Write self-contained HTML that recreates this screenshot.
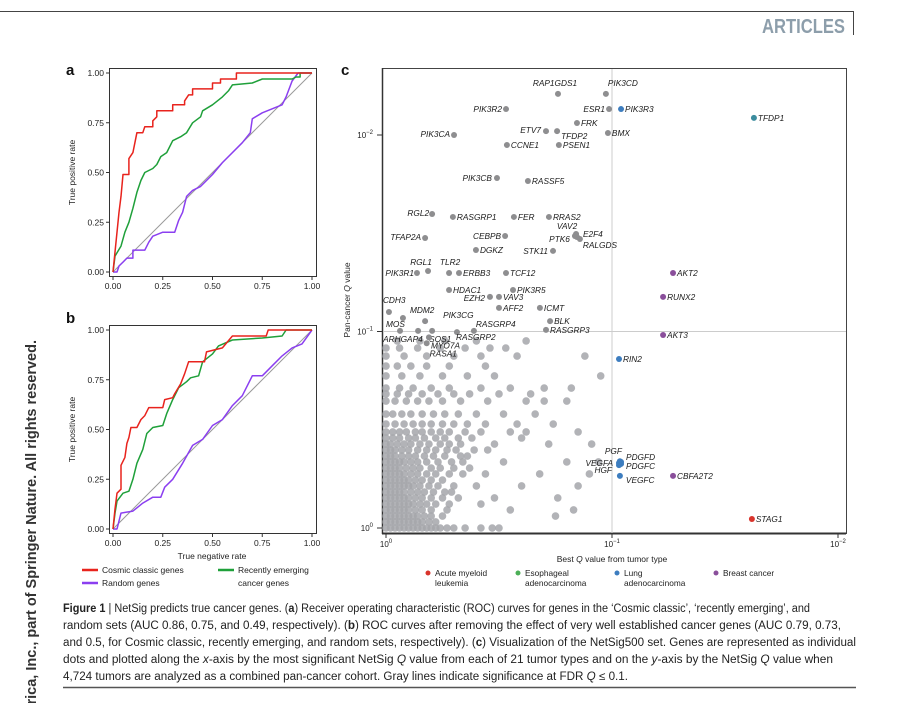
<!DOCTYPE html>
<html><head><meta charset="utf-8"><style>
html,body{margin:0;padding:0;background:#fff;}
svg{display:block;font-family:"Liberation Sans",sans-serif;}
</style></head><body>
<svg id="fig" width="900" height="703" viewBox="0 0 900 703" xmlns="http://www.w3.org/2000/svg">
<line x1="0" y1="11.5" x2="853" y2="11.5" stroke="#444" stroke-width="1"/>
<line x1="853.5" y1="11" x2="853.5" y2="35" stroke="#444" stroke-width="1"/>
<text x="845" y="33" text-anchor="end" font-size="20" font-weight="bold" fill="#8d9eab" font-family="Liberation Sans Narrow, Liberation Sans, sans-serif" textLength="83" lengthAdjust="spacingAndGlyphs">ARTICLES</text>
<text transform="translate(36,340) rotate(-90)" text-anchor="end" font-size="14.5" font-weight="bold" fill="#333">America, Inc., part of Springer Nature. All rights reserved.</text>
<g id="panelA"></g>
<g id="panelB"></g>
<g id="panelC"></g>
<g font-family="Liberation Sans Narrow, Liberation Sans, sans-serif" font-size="11.5" fill="#222">
<text x="63" y="612" textLength="747" lengthAdjust="spacingAndGlyphs"><tspan font-weight="bold">Figure 1</tspan> | NetSig predicts true cancer genes. (<tspan font-weight="bold">a</tspan>) Receiver operating characteristic (ROC) curves for genes in the ‘Cosmic classic’, ‘recently emerging’, and</text>
<text x="63" y="629" textLength="778" lengthAdjust="spacingAndGlyphs">random sets (AUC 0.86, 0.75, and 0.49, respectively). (<tspan font-weight="bold">b</tspan>) ROC curves after removing the effect of very well established cancer genes (AUC 0.79, 0.73,</text>
<text x="63" y="646" textLength="793" lengthAdjust="spacingAndGlyphs">and 0.5, for Cosmic classic, recently emerging, and random sets, respectively). (<tspan font-weight="bold">c</tspan>) Visualization of the NetSig500 set. Genes are represented as individual</text>
<text x="63" y="663" textLength="770" lengthAdjust="spacingAndGlyphs">dots and plotted along the <tspan font-style="italic">x</tspan>-axis by the most significant NetSig <tspan font-style="italic">Q</tspan> value from each of 21 tumor types and on the <tspan font-style="italic">y</tspan>-axis by the NetSig <tspan font-style="italic">Q</tspan> value when</text>
<text x="63" y="680" textLength="565" lengthAdjust="spacingAndGlyphs">4,724 tumors are analyzed as a combined pan-cancer cohort. Gray lines indicate significance at FDR <tspan font-style="italic">Q</tspan> ≤ 0.1.</text>
</g>
<line x1="63" y1="687.5" x2="856" y2="687.5" stroke="#555" stroke-width="1.5"/>
</svg>
<script>
// ---------- ROC data ----------
const rocTicks = [0, 0.25, 0.5, 0.75, 1];
const rocTickLabels = ["0.00", "0.25", "0.50", "0.75", "1.00"];
const aCosmicX = [0,0.01,0.02,0.03,0.04,0.05,0.08,0.08,0.1,0.11,0.12,0.15,0.16,0.2,0.2,0.22,0.22,0.3,0.3,0.36,0.36,0.38,0.4,0.4,0.5,0.5,0.54,0.54,0.62,0.62,1];
const aCosmicY = [0,0.1,0.2,0.3,0.38,0.49,0.49,0.57,0.6,0.65,0.7,0.7,0.73,0.73,0.76,0.78,0.81,0.81,0.84,0.84,0.86,0.89,0.89,0.92,0.92,0.95,0.95,0.97,0.97,1,1];
const aEmergX = [0,0.01,0.04,0.06,0.08,0.1,0.12,0.14,0.16,0.2,0.22,0.24,0.27,0.3,0.34,0.37,0.4,0.44,0.45,0.5,0.55,0.58,0.6,0.7,0.75,0.9,0.92,0.94,0.94,1];
const aEmergY = [0,0.08,0.13,0.2,0.25,0.32,0.4,0.46,0.5,0.52,0.54,0.58,0.6,0.66,0.68,0.7,0.75,0.78,0.81,0.84,0.88,0.91,0.94,0.95,0.97,0.97,0.98,0.98,1,1];
const aRandX = [0,0.02,0.03,0.05,0.07,0.1,0.1,0.16,0.18,0.2,0.25,0.31,0.33,0.35,0.37,0.4,0.44,0.47,0.5,0.55,0.6,0.65,0.69,0.7,0.75,0.8,0.85,0.87,0.9,0.93,1];
const aRandY = [0,0,0.03,0.05,0.07,0.07,0.11,0.11,0.15,0.18,0.2,0.2,0.26,0.3,0.38,0.41,0.43,0.46,0.49,0.55,0.6,0.65,0.7,0.77,0.8,0.82,0.84,0.88,0.96,1,1];
const bCosmicX = [0,0.01,0.02,0.04,0.04,0.06,0.07,0.08,0.09,0.12,0.14,0.16,0.18,0.25,0.26,0.3,0.31,0.34,0.36,0.38,0.46,0.47,0.55,0.6,0.77,0.78,1];
const bCosmicY = [0,0.1,0.18,0.2,0.32,0.36,0.43,0.46,0.51,0.51,0.55,0.57,0.61,0.61,0.65,0.66,0.68,0.73,0.78,0.84,0.84,0.89,0.91,0.97,0.97,1,1];
const bEmergX = [0,0.01,0.02,0.05,0.08,0.1,0.12,0.15,0.17,0.2,0.25,0.27,0.3,0.33,0.37,0.39,0.43,0.45,0.5,0.53,0.6,0.75,0.85,0.87,1];
const bEmergY = [0,0.08,0.14,0.18,0.19,0.25,0.33,0.4,0.48,0.51,0.52,0.58,0.65,0.71,0.74,0.76,0.77,0.84,0.88,0.92,0.95,0.96,0.97,1,1];
const bRandX = [0,0.02,0.03,0.04,0.1,0.15,0.2,0.24,0.26,0.3,0.35,0.4,0.45,0.5,0.55,0.6,0.65,0.7,0.75,0.8,0.85,0.9,0.95,1];
const bRandY = [0,0,0.04,0.08,0.09,0.13,0.16,0.16,0.21,0.25,0.33,0.42,0.45,0.52,0.55,0.62,0.67,0.77,0.77,0.82,0.87,0.91,0.93,1];

// ---------- Scatter data (values are -log10 Q) ----------
const geneNames = ["RAP1GDS1","PIK3CD","PIK3R2","ESR1","PIK3R3","TFDP1","FRK","ETV7","TFDP2","BMX","PIK3CA","CCNE1","PSEN1","PIK3CB","RASSF5","RGL2","RASGRP1","FER","RRAS2","TFAP2A","CEBPB","VAV2","PTK6","E2F4","RALGDS","DGKZ","STK11","RGL1","TLR2","PIK3R1","ERBB3","TCF12","HDAC1","PIK3R5","EZH2","VAV3","AFF2","ICMT","CDH3","MDM2","PIK3CG","MOS","RASGRP4","BLK","RASGRP3","ARHGAP4","SOS1","RASGRP2","MYO7A","RASA1","RIN2","AKT2","RUNX2","AKT3","PGF","PDGFD","PDGFC","VEGFA","HGF","VEGFC","CBFA2T2","STAG1"];
const geneBestQ = [0.761,0.973,0.531,0.987,1.040,1.628,0.845,0.708,0.757,0.982,0.301,0.535,0.765,0.491,0.628,0.204,0.296,0.566,0.721,0.173,0.527,0.841,0.836,0.845,0.858,0.398,0.739,0.186,0.279,0.137,0.323,0.531,0.279,0.562,0.460,0.500,0.500,0.681,0.013,0.075,0.173,0.062,0.389,0.726,0.708,0.142,0.204,0.314,0.190,0.180,1.031,1.270,1.226,1.226,1.035,1.040,1.040,1.031,1.031,1.035,1.270,1.619];
const genePanQ = [2.209,2.209,2.132,2.132,2.132,2.087,2.061,2.020,2.020,2.010,2.000,1.949,1.949,1.781,1.766,1.598,1.583,1.583,1.583,1.476,1.486,1.496,1.486,1.481,1.471,1.415,1.410,1.308,1.298,1.298,1.298,1.298,1.211,1.211,1.176,1.176,1.120,1.120,1.099,1.069,1.053,1.003,1.003,1.053,1.008,1.003,1.003,0.997,0.970,0.940,0.860,1.298,1.176,0.982,0.340,0.336,0.326,0.331,0.320,0.265,0.265,0.046];
const geneGroup = ["g","g","g","g","lung","multi","g","g","g","g","g","g","g","g","g","g","g","g","g","g","g","g","g","g","g","g","g","g","g","g","g","g","g","g","g","g","g","g","g","g","g","g","g","g","g","g","g","g","g","g","lung","breast","breast","breast","lung","lung","lung","lung","lung","lung","breast","aml"];
const grayY = [0,0.031,0.061,0.092,0.122,0.153,0.183,0.214,0.244,0.275,0.305,0.336,0.366,0.397,0.427,0.458,0.489,0.529,0.580,0.646,0.682,0.712,0.774,0.824,0.875,0.916,0.952];
const grayX = [
[0,.02,.04,.06,.08,.1,.12,.14,.16,.18,.2,.22,.24,.27,.3,.35,.42,.47,.5],
[0,.02,.04,.06,.08,.1,.12,.14,.16,.19,.22],
[0,.02,.04,.06,.08,.1,.12,.14,.17,.2,.25,.75],
[0,.02,.04,.06,.08,.1,.13,.16,.2,.27,.55,.83],
[0,.02,.04,.06,.08,.1,.12,.15,.18,.22,.28,.42],
[0,.02,.04,.06,.08,.1,.13,.16,.2,.25,.32,.48,.76],
[0,.02,.04,.06,.08,.11,.14,.17,.21,.26,.29],
[0,.02,.04,.06,.08,.1,.12,.15,.19,.23,.3,.4,.6,.85],
[0,.02,.04,.06,.08,.1,.13,.16,.2,.25],
[0,.02,.04,.06,.08,.11,.14,.18,.22,.28,.34,.44,.68,.9],
[0,.02,.04,.06,.09,.12,.15,.2,.24,.3,.37],
[0,.02,.04,.06,.08,.11,.14,.18,.23,.29,.34,.52,.8,.94],
[0,.02,.04,.07,.1,.13,.17,.21,.26,.33,.36],
[0,.02,.04,.07,.1,.14,.18,.22,.27,.31,.39,.45],
[0,.02,.05,.08,.11,.15,.19,.24,.28,.33,.48,.72,.91],
[0,.03,.06,.1,.13,.17,.22,.26,.32,.38,.6],
[0,.03,.06,.09,.13,.16,.2,.24,.28,.35,.42,.55,.62,.85],
[0,.04,.08,.12,.16,.2,.25,.3,.36,.44,.58,.74],
[0,.03,.07,.11,.16,.21,.26,.32,.4,.52,.66],
[0,.04,.09,.14,.19,.25,.33,.45,.62,.7,.8],
[0,.05,.1,.16,.23,.3,.37,.5,.64],
[0,.06,.12,.2,.28,.42,.55,.7,.82],
[0,.07,.15,.25,.36,.48,.95],
[0,.05,.11,.18,.28,.44],
[0,.08,.18,.3,.42,.58,.88],
[0,.06,.14,.24,.35,.46,.53],
[.05,.15,.26,.4,.62]
];
const scatterTicks = [0, 1, 2];
const legendLabels = [["Acute myeloid","leukemia"],["Esophageal","adenocarcinoma"],["Lung","adenocarcinoma"],["Breast cancer"]];
const legendGroups = ["aml","esoph","lung","breast"];

const labelLayout = {
RAP1GDS1:["middle",-3,-8],PIK3CD:["start",2,-8],PIK3R2:["end",-4,3],ESR1:["end",-4,3],PIK3R3:["start",4,3],TFDP1:["start",4,3],FRK:["start",4,3],ETV7:["end",-5,2],TFDP2:["start",4,8],BMX:["start",4,3],PIK3CA:["end",-4,2],CCNE1:["start",4,3],PSEN1:["start",4,3],PIK3CB:["end",-5,3],RASSF5:["start",4,3],RGL2:["end",-3,2],RASGRP1:["start",4,3],FER:["start",4,3],RRAS2:["start",4,3],TFAP2A:["end",-4,2],CEBPB:["end",-4,3],VAV2:["middle",-9,-5],PTK6:["end",-5,6],E2F4:["start",6,0],RALGDS:["start",3,9],DGKZ:["start",4,3],STK11:["end",-5,3],RGL1:["middle",-7,-6],TLR2:["middle",1,-8],PIK3R1:["end",-3,3],ERBB3:["start",4,3],TCF12:["start",4,3],HDAC1:["start",4,3],PIK3R5:["start",4,3],EZH2:["end",-5,4],VAV3:["start",4,3],AFF2:["start",4,3],ICMT:["start",4,3],CDH3:["start",-6,-9],MDM2:["start",7,-5],PIK3CG:["start",18,-3],MOS:["start",-14,-4],RASGRP4:["start",2,-4],BLK:["start",4,3],RASGRP3:["start",4,3],ARHGAP4:["start",-35,11],SOS1:["start",-3,11],RASGRP2:["start",-1,8],MYO7A:["start",2,11],RASA1:["start",3,13],RIN2:["start",4,3],AKT2:["start",4,3],RUNX2:["start",4,3],AKT3:["start",4,3],PGF:["end",2,-7],PDGFD:["start",5,-2],PDGFC:["start",5,5],VEGFA:["end",-6,3],HGF:["end",-7,8],VEGFC:["start",6,7],CBFA2T2:["start",4,3],STAG1:["start",4,3]
};
const groupColor = {g:"#8e8e90",lung:"#3d7dbf",breast:"#8a4f9b",aml:"#d9342c",esoph:"#4caf57",multi:"#3b8c9e"};

const NS = "http://www.w3.org/2000/svg";
function mk(tag, attrs, parent) {
  const e = document.createElementNS(NS, tag);
  for (const k in attrs) e.setAttribute(k, attrs[k]);
  parent.appendChild(e);
  return e;
}

function rocPanel(g, y0px, y1px, series, showXTitle, letter, letterY) {
  const sx = v => 113 + v * (312 - 113);
  const sy = v => y0px + v * (y1px - y0px);
  const frame = mk("rect", {x: 109.5, y: sy(1) - 4.5, width: 207, height: (y0px - y1px) + 9, fill: "none", stroke: "#333", "stroke-width": 1}, g);
  
  
  const lt = mk("text", {x: 66, y: letterY, "font-size": 15, "font-weight": "bold", fill: "#111"}, g);
  lt.textContent = letter;
  
  
  rocTicks.forEach((t, i) => {
    const tk = mk("line", {x1: sx(t), x2: sx(t), y1: y0px + 5, y2: y0px + 8, stroke: "#333"}, g);
    
    
    const xl = mk("text", {x: sx(t), y: y0px + 17, "font-size": 8.5, "text-anchor": "middle", fill: "#222"}, g);
    xl.textContent = rocTickLabels[i];
    
    
    const ty = mk("line", {x1: 106, x2: 109.5, y1: sy(t), y2: sy(t), stroke: "#333"}, g);
    
    
    const yl = mk("text", {x: 104, y: sy(t) + 3, "font-size": 8.5, "text-anchor": "end", fill: "#222"}, g);
    yl.textContent = rocTickLabels[i];
    
    
  });
  const yt = mk("text", {transform: `translate(75,${(sy(0)+sy(1))/2}) rotate(-90)`, "font-size": 8.5, "text-anchor": "middle", fill: "#222"}, g);
  yt.textContent = "True positive rate";
  
  
  if (showXTitle) {
    const xt = mk("text", {x: 212, y: y0px + 30, "font-size": 8.5, "text-anchor": "middle", fill: "#222"}, g);
    xt.textContent = "True negative rate";
    
    
  }
  const diag = mk("line", {x1: sx(0), y1: sy(0), x2: sx(1), y2: sy(1), stroke: "#999", "stroke-width": 1}, g);
  
  
  series.forEach(s => {
    const pts = s.xs.map((x, i) => sx(x).toFixed(1) + "," + sy(s.ys[i]).toFixed(1)).join(" ");
    const pl = mk("polyline", {points: pts, fill: "none", stroke: s.color, "stroke-width": 1.5, "stroke-linejoin": "round"}, g);
    
    
  });
}
const gA = document.getElementById("panelA");
rocPanel(gA, 272, 73, [
  {xs: aRandX, ys: aRandY, color: "#8b3ff0", name: "roc-a-random"},
  {xs: aEmergX, ys: aEmergY, color: "#1fa03a", name: "roc-a-emerging"},
  {xs: aCosmicX, ys: aCosmicY, color: "#e8231d", name: "roc-a-cosmic"}
], false, "a", 75);
const gB = document.getElementById("panelB");
rocPanel(gB, 529, 330, [
  {xs: bRandX, ys: bRandY, color: "#8b3ff0", name: "roc-b-random"},
  {xs: bEmergX, ys: bEmergY, color: "#1fa03a", name: "roc-b-emerging"},
  {xs: bCosmicX, ys: bCosmicY, color: "#e8231d", name: "roc-b-cosmic"}
], true, "b", 323);
[["Cosmic classic genes", "#e8231d", 82, 573], ["Random genes", "#8b3ff0", 82, 586], ["Recently emerging", "#1fa03a", 218, 573]].forEach(l => {
  const ln = mk("line", {x1: l[2], x2: l[2] + 16, y1: l[3] - 3, y2: l[3] - 3, stroke: l[1], "stroke-width": 2.5}, gB);
  
  
  const t = mk("text", {x: l[2] + 20, y: l[3], "font-size": 8.5, fill: "#222"}, gB);
  t.textContent = l[0];
  
  
});
const t2 = mk("text", {x: 238, y: 586, "font-size": 8.5, fill: "#222"}, gB);
t2.textContent = "cancer genes";



const gC = document.getElementById("panelC");
const cx = v => 386 + v * 226;
const cy = v => 528 - v * 196.5;
const cframe = mk("path", {d: "M382.5,533.5 V68.5 H846.5 V533.5 Z", fill: "none", stroke: "#444", "stroke-width": 1}, gC);


const axB = mk("line", {x1: 382, x2: 846, y1: 533.5, y2: 533.5, stroke: "#333", "stroke-width": 2}, gC);


const axL = mk("line", {x1: 382.5, x2: 382.5, y1: 68, y2: 534, stroke: "#333", "stroke-width": 1.5}, gC);


const letC = mk("text", {x: 341, y: 75, "font-size": 15, "font-weight": "bold", fill: "#111"}, gC);
letC.textContent = "c";


const vref = mk("line", {x1: cx(1), x2: cx(1), y1: 69, y2: 533, stroke: "#ccc", "stroke-width": 1}, gC);


const href = mk("line", {x1: 383, x2: 846, y1: cy(1), y2: cy(1), stroke: "#ccc", "stroke-width": 1}, gC);


scatterTicks.forEach(t => {
  const tk = mk("line", {x1: cx(t), x2: cx(t), y1: 534, y2: 538, stroke: "#333"}, gC);
  
  
  const xl = mk("text", {x: cx(t), y: 547, "font-size": 8, "text-anchor": "middle", fill: "#222"}, gC);
  xl.innerHTML = `10<tspan dy="-4" font-size="6">${t === 0 ? "0" : "−" + t}</tspan>`;
  
  
  const ty = mk("line", {x1: 377, x2: 382, y1: cy(t), y2: cy(t), stroke: "#333"}, gC);
  
  
  const yl = mk("text", {x: 373, y: cy(t) + 3, "font-size": 8, "text-anchor": "end", fill: "#222"}, gC);
  yl.innerHTML = `10<tspan dy="-4" font-size="6">${t === 0 ? "0" : "−" + t}</tspan>`;
  
  
});
const cyt = mk("text", {transform: "translate(350,300) rotate(-90)", "font-size": 8.5, "text-anchor": "middle", fill: "#222"}, gC);
cyt.innerHTML = 'Pan-cancer <tspan font-style="italic">Q</tspan> value';


const cxt = mk("text", {x: 612, y: 562, "font-size": 8.5, "text-anchor": "middle", fill: "#222"}, gC);
cxt.innerHTML = 'Best <tspan font-style="italic">Q</tspan> value from tumor type';


const cloud = mk("g", {}, gC);


grayY.forEach((yv, r) => {
  grayX[r].forEach(xv => {
    const c = mk("circle", {cx: cx(xv), cy: cy(yv), r: 3.8, fill: "#a4a6aa", "fill-opacity": 0.85}, cloud);
    
    
  });
});
geneNames.forEach((n, i) => {
  const x = cx(geneBestQ[i]), y = cy(genePanQ[i]);
  const c = mk("circle", {cx: x, cy: y, r: 3, fill: groupColor[geneGroup[i]]}, gC);
  
  
  const L = labelLayout[n];
  const t = mk("text", {x: x + L[1], y: y + L[2], "font-size": 8.3, "font-style": "italic", "text-anchor": L[0], fill: "#1a1a1a"}, gC);
  t.textContent = n;
  
  
});
const legX = [428, 518, 617, 716];
legendGroups.forEach((gname, i) => {
  const c = mk("circle", {cx: legX[i], cy: 573, r: 2.5, fill: groupColor[gname]}, gC);
  
  
  legendLabels[i].forEach((s, j) => {
    const t = mk("text", {x: legX[i] + 7, y: 576 + j * 10, "font-size": 8.3, fill: "#222"}, gC);
    t.textContent = s;
    
    
  });
});
</script>
</body></html>
